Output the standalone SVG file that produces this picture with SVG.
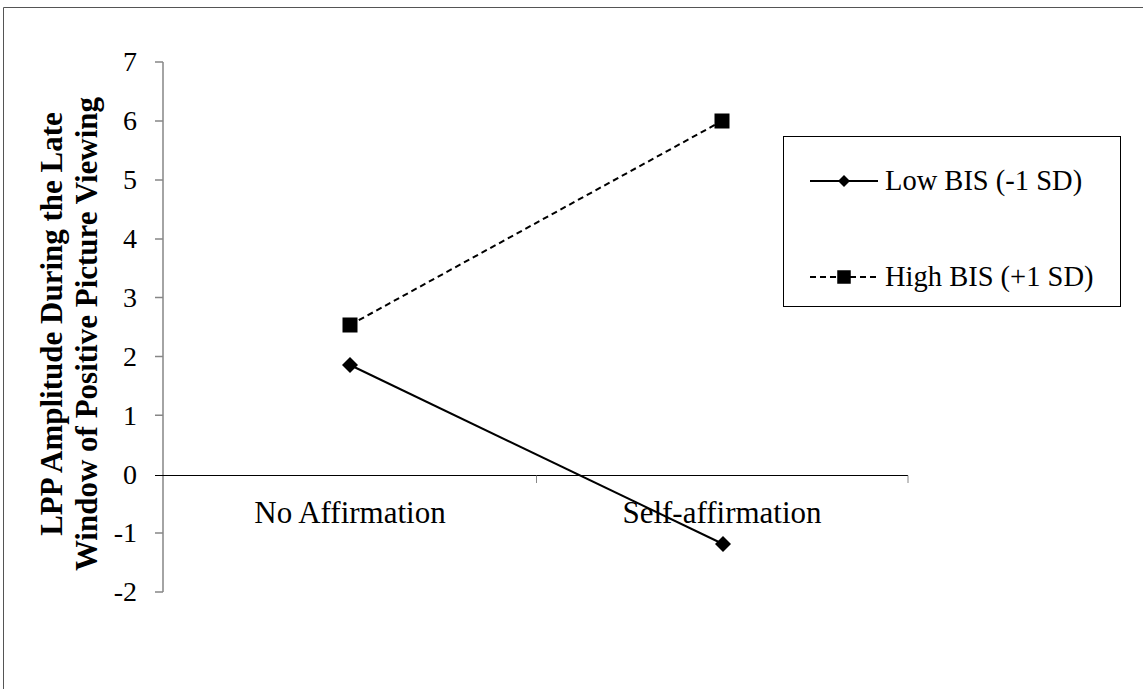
<svg xmlns="http://www.w3.org/2000/svg" width="1143" height="689" viewBox="0 0 1143 689">
<style>
.t{font-family:"Liberation Serif","Times New Roman",serif;fill:#000}
.tick{font-size:28px;text-anchor:end}
.cat{font-size:31px;text-anchor:middle}
.leg{font-size:28.5px}
.title{font-size:31px;font-weight:bold;text-anchor:middle}
.gax{stroke:#868686;stroke-width:1.5;fill:none}
.bax{stroke:#000;stroke-width:1.2;fill:none}
.low{stroke:#000;stroke-width:2;fill:none}
.high{stroke:#000;stroke-width:2;fill:none;stroke-dasharray:6,4}
</style>
<defs>
<path id="dia" d="M0,-8 L8,0 L0,8 L-8,0 Z" fill="#000"/>
<rect id="sq" x="-7.5" y="-7.5" width="15" height="15" fill="#000"/>
</defs>
<rect width="1143" height="689" fill="#fff"/>
<path d="M3.5,689 V7.5 H1143" fill="none" stroke="#555" stroke-width="1"/>
<g id="y-axis">
<path class="gax" d="M163,62 V592"/>
<path class="gax" d="M155,62 H163 M155,121 H163 M155,180 H163 M155,239 H163 M155,297.6 H163 M155,356.4 H163 M155,415.3 H163 M155,533.1 H163 M155,592 H163"/>
<text class="t tick" x="137" y="71">7</text>
<text class="t tick" x="137" y="130">6</text>
<text class="t tick" x="137" y="189">5</text>
<text class="t tick" x="137" y="248">4</text>
<text class="t tick" x="137" y="307">3</text>
<text class="t tick" x="137" y="366">2</text>
<text class="t tick" x="137" y="425">1</text>
<text class="t tick" x="137" y="484">0</text>
<text class="t tick" x="137" y="542">-1</text>
<text class="t tick" x="137" y="601">-2</text>
</g>
<g id="x-axis">
<path class="bax" d="M155,475.5 H908"/>
<path stroke="#888" stroke-width="1" d="M536.5,475.5 V483 M908,475.5 V483"/>
<text class="t cat" x="350" y="523">No Affirmation</text>
<text class="t cat" x="722" y="523">Self-affirmation</text>
</g>
<g id="axis-title">
<text class="t title" transform="translate(62,324) rotate(-90)">LPP Amplitude During the Late</text>
<text class="t title" transform="translate(97,334) rotate(-90)">Window of Positive Picture Viewing</text>
</g>
<g id="connectors">
<path class="low" d="M350,365 L723,544"/>
<path class="high" d="M350,325 L722,121"/>
</g>
<g id="low-bis">
<use href="#dia" x="350" y="365"/>
<use href="#dia" x="723" y="544"/>
</g>
<g id="high-bis">
<use href="#sq" x="350" y="325"/>
<use href="#sq" x="722" y="121"/>
</g>
<g id="legend">
<rect x="783.5" y="136.5" width="337" height="170" fill="#fff" stroke="#000" stroke-width="1"/>
<path class="low" d="M810,181 H878"/>
<use href="#dia" x="844" y="181" transform="translate(844,181) scale(0.75) translate(-844,-181)"/>
<text class="t leg" x="885" y="190">Low BIS (-1 SD)</text>
<path class="high" d="M810,277 H878" stroke-dasharray="5,3"/>
<use href="#sq" x="844" y="277" transform="translate(844,277) scale(0.9) translate(-844,-277)"/>
<text class="t leg" x="885" y="286">High BIS (+1 SD)</text>
</g>
</svg>
